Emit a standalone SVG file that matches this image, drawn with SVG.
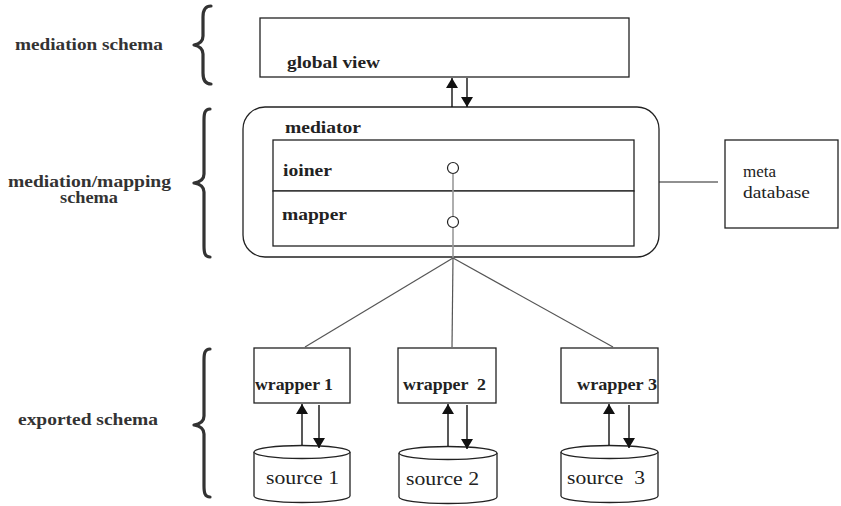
<svg xmlns="http://www.w3.org/2000/svg" width="841" height="506" viewBox="0 0 841 506">
<style>
  .box { fill: #fff; stroke: #222; stroke-width: 1.3; }
  text { font-family: "Liberation Serif", "DejaVu Serif", "Noto Serif", "Times New Roman", serif; }
  .lbl { font-weight: bold; font-size: 16px; fill: #222; }
  .side { font-weight: bold; font-size: 16px; fill: #333; }
  .reg { font-size: 19px; fill: #222; }
  .meta { font-size: 16px; fill: #222; }
  .brace { fill: none; stroke: #333; stroke-width: 3.2; stroke-linecap: round; stroke-linejoin: round; }
  .arr { stroke: #111; stroke-width: 1.4; fill: none; }
  .fan { stroke: #555; stroke-width: 1.2; fill: none; }
  .gray { stroke: #9a9a9a; stroke-width: 1.6; fill: none; }
</style>
<defs>
  <marker id="ah" viewBox="0 0 10 12" refX="10" refY="6" markerWidth="10" markerHeight="12" markerUnits="userSpaceOnUse" orient="auto">
    <path d="M0,0 L10,6 L0,12 Z" fill="#111"/>
  </marker>
</defs>

<rect width="841" height="506" fill="#fff"/>

<g id="side-labels">
  <text class="side" x="15" y="50" textLength="148" lengthAdjust="spacingAndGlyphs">mediation schema</text>
  <text class="side" x="8" y="187" textLength="163" lengthAdjust="spacingAndGlyphs">mediation/mapping</text>
  <text class="side" x="60" y="203" textLength="58" lengthAdjust="spacingAndGlyphs">schema</text>
  <text class="side" x="18" y="425" textLength="140" lengthAdjust="spacingAndGlyphs">exported schema</text>
</g>

<g id="braces">
  <path class="brace" d="M211,6 C205,6 203,10 203,17 L203,36 C203,41 199,44 194,45 C199,46 203,49 203,54 L203,73 C203,80 205,84 211,84"/>
  <path class="brace" d="M210,109 C205,109 204,113 204,120 L204,174 C204,179 200,182 194,183 C200,184 204,187 204,192 L204,246 C204,253 205,257 210,257"/>
  <path class="brace" d="M210,349 C205,349 204,353 204,360 L204,416 C204,421 200,424 194,425 C200,426 204,429 204,434 L204,486 C204,493 205,497 210,497"/>
</g>

<g id="global-view">
  <rect class="box" x="260" y="18" width="369" height="59"/>
  <text class="lbl" x="287" y="68" textLength="93" lengthAdjust="spacingAndGlyphs">global view</text>
</g>

<g id="mediator">
  <rect class="box" x="243" y="107" width="416" height="150" rx="22" ry="22"/>
  <text class="lbl" x="285" y="133" textLength="76" lengthAdjust="spacingAndGlyphs">mediator</text>
</g>

<g id="joiner">
  <rect class="box" x="273" y="140" width="361" height="51"/>
  <text class="lbl" x="283" y="176" textLength="49" lengthAdjust="spacingAndGlyphs">ioiner</text>
</g>

<g id="mapper">
  <rect class="box" x="273" y="191" width="361" height="55"/>
  <text class="lbl" x="282" y="220" textLength="65" lengthAdjust="spacingAndGlyphs">mapper</text>
</g>

<g id="meta-database">
  <rect class="box" x="725" y="140" width="113" height="88"/>
  <text class="meta" x="743" y="177" textLength="33" lengthAdjust="spacingAndGlyphs">meta</text>
  <text class="meta" x="743" y="198" textLength="67" lengthAdjust="spacingAndGlyphs">database</text>
</g>

<g id="wrapper1">
  <rect class="box" x="254" y="348" width="96" height="55"/>
  <text class="lbl" x="255" y="390" textLength="78" lengthAdjust="spacingAndGlyphs">wrapper 1</text>
</g>
<g id="wrapper2">
  <rect class="box" x="398" y="348" width="98" height="55"/>
  <text class="lbl" x="403" y="390" textLength="83" lengthAdjust="spacingAndGlyphs" xml:space="preserve">wrapper  2</text>
</g>
<g id="wrapper3">
  <rect class="box" x="561" y="348" width="97" height="55"/>
  <text class="lbl" x="577" y="390" textLength="80" lengthAdjust="spacingAndGlyphs">wrapper 3</text>
</g>

<g id="source1">
  <path class="box" d="M254,452 L254,496 A48,6.5 0 0 0 350,496 L350,452"/>
  <ellipse class="box" cx="302" cy="452" rx="48" ry="6.5"/>
  <text class="reg" x="266" y="484" textLength="73" lengthAdjust="spacingAndGlyphs">source 1</text>
</g>
<g id="source2">
  <path class="box" d="M399,453 L399,497 A49,6.5 0 0 0 497,497 L497,453"/>
  <ellipse class="box" cx="448" cy="453" rx="49" ry="6.5"/>
  <text class="reg" x="406" y="485" textLength="73" lengthAdjust="spacingAndGlyphs">source 2</text>
</g>
<g id="source3">
  <path class="box" d="M561,452 L561,496 A48.5,6.5 0 0 0 658,496 L658,452"/>
  <ellipse class="box" cx="609.5" cy="452" rx="48.5" ry="6.5"/>
  <text class="reg" x="567" y="484" textLength="78" lengthAdjust="spacingAndGlyphs" xml:space="preserve">source  3</text>
</g>

<g id="connectors">
  <line class="arr" x1="452" y1="107" x2="452" y2="78" marker-end="url(#ah)"/>
  <line class="arr" x1="467" y1="78" x2="467" y2="107" marker-end="url(#ah)"/>
  <line x1="659" y1="182" x2="718" y2="182" stroke="#222" stroke-width="1.2"/>
  <line class="gray" x1="453" y1="174" x2="453" y2="216"/>
  <line class="gray" x1="453" y1="228" x2="453" y2="258"/>
  <circle cx="453" cy="168" r="5.5" fill="#fff" stroke="#222" stroke-width="1.2"/>
  <circle cx="453" cy="222" r="5.5" fill="#fff" stroke="#222" stroke-width="1.2"/>
  <line class="fan" x1="453" y1="258" x2="305" y2="347"/>
  <line class="fan" x1="453" y1="258" x2="452" y2="347"/>
  <line class="fan" x1="453" y1="258" x2="613" y2="347"/>
  <line class="arr" x1="302" y1="445" x2="302" y2="404" marker-end="url(#ah)"/>
  <line class="arr" x1="319" y1="405" x2="319" y2="448" marker-end="url(#ah)"/>
  <line class="arr" x1="448" y1="446" x2="448" y2="404" marker-end="url(#ah)"/>
  <line class="arr" x1="467" y1="405" x2="467" y2="449" marker-end="url(#ah)"/>
  <line class="arr" x1="609" y1="445" x2="609" y2="404" marker-end="url(#ah)"/>
  <line class="arr" x1="629" y1="405" x2="629" y2="448" marker-end="url(#ah)"/>
</g>
</svg>
